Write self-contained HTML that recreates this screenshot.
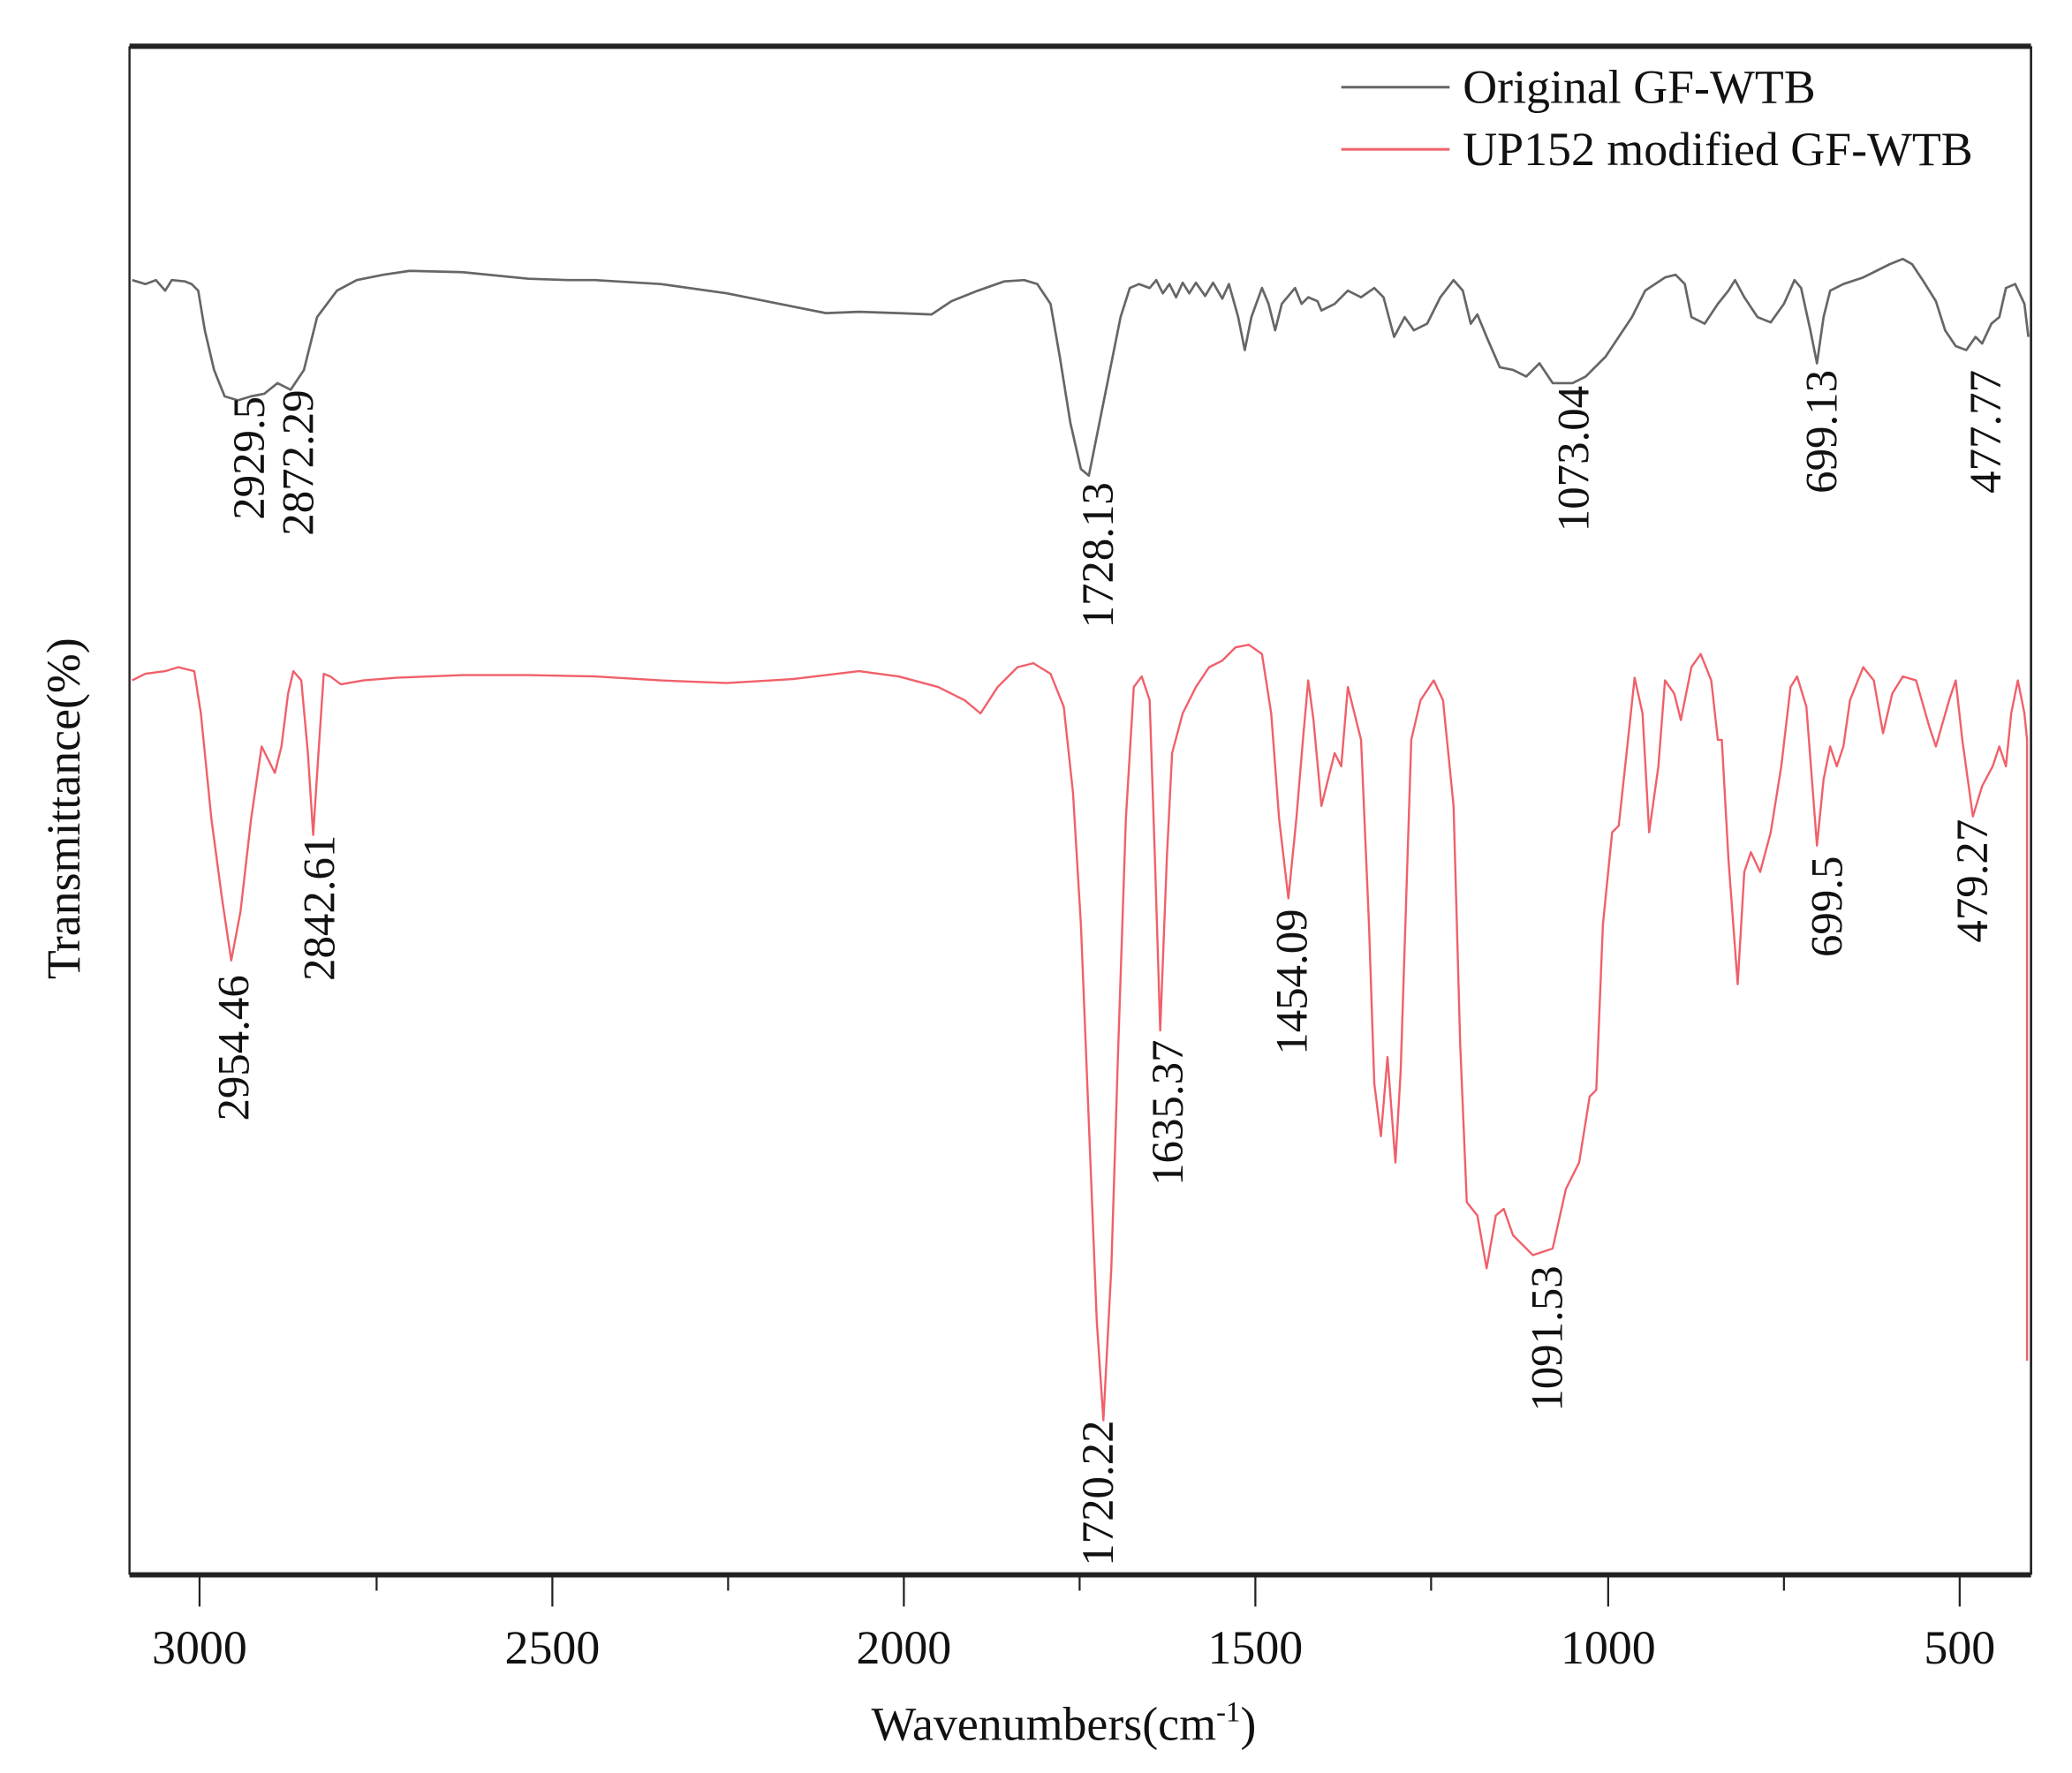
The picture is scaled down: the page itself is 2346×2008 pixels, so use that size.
<!DOCTYPE html>
<html><head><meta charset="utf-8"><style>
html,body{margin:0;padding:0;background:#fff;}
svg{display:block;}
text{font-family:"Liberation Serif",serif;fill:#111;}
</style></head><body>
<svg width="2346" height="2008" viewBox="0 0 1568 1342" preserveAspectRatio="none" xmlns="http://www.w3.org/2000/svg">
<rect x="0" y="0" width="1568" height="1342" fill="#fff"/>
<polyline fill="none" stroke="#666" stroke-width="1.8" stroke-linejoin="round" points="100,212 110,215 118,212 125,220 130,212 140,213 145,215 150,220 155,250 162,280 170,300 180,303 190,300 200,298 210,290 220,295 230,280 240,240 255,220 270,212 290,208 310,205 350,206 400,211 430,212 450,212 500,215 550,222 580,228 600,232 625,237 650,236 680,237 705,238 720,228 740,220 760,213 775,212 785,215 795,230 802,270 810,320 818,355 824,360 830,330 840,280 848,240 855,218 862,215 870,218 875,212 880,222 885,215 890,225 895,214 900,222 905,214 912,224 918,214 925,226 930,215 937,240 942,265 947,240 955,218 960,230 965,250 970,230 980,218 985,230 990,225 997,228 1000,235 1010,230 1020,220 1030,225 1040,218 1047,225 1055,255 1063,240 1070,250 1080,245 1090,225 1100,212 1107,220 1113,245 1118,238 1125,255 1135,278 1145,280 1155,285 1165,275 1175,290 1190,290 1200,285 1215,270 1225,255 1235,240 1245,220 1260,210 1268,208 1275,215 1280,240 1290,245 1300,230 1308,220 1313,212 1320,225 1330,240 1340,244 1350,230 1358,212 1363,218 1370,250 1375,275 1380,240 1385,220 1395,215 1410,210 1420,205 1430,200 1440,196 1447,200 1455,212 1465,228 1472,250 1480,262 1488,265 1495,255 1500,260 1507,245 1513,240 1518,218 1525,215 1532,230 1535,255"/>
<polyline fill="none" stroke="#f0606a" stroke-width="1.6" stroke-linejoin="round" points="100,515 110,510 125,508 135,505 147,508 152,540 160,620 168,680 175,727 182,690 190,620 198,565 203,575 208,585 213,565 218,525 222,508 228,515 233,570 237,632 241,570 245,510 250,512 258,518 275,515 300,513 350,511 400,511 450,512 500,515 550,517 600,514 650,508 680,512 710,520 730,530 742,540 755,520 770,505 782,502 795,510 805,535 812,600 818,700 824,850 830,1000 835,1075 841,960 846,800 852,620 858,520 864,512 870,530 874,650 878,780 883,650 887,570 895,540 905,520 915,505 925,500 935,490 945,488 955,495 962,540 968,620 975,680 981,620 986,560 990,515 994,545 1000,610 1005,590 1010,570 1015,580 1020,520 1025,540 1030,560 1036,700 1040,820 1045,860 1050,800 1056,880 1060,810 1068,560 1075,530 1085,515 1092,530 1100,610 1105,790 1110,910 1118,920 1125,960 1132,920 1138,915 1145,935 1160,950 1175,945 1185,900 1195,880 1203,830 1208,825 1213,700 1220,630 1225,625 1232,560 1237,513 1243,540 1248,630 1255,580 1260,515 1267,525 1272,545 1280,505 1287,495 1295,515 1300,560 1303,560 1308,650 1315,745 1320,660 1325,645 1332,660 1340,630 1348,580 1355,520 1360,512 1367,535 1375,640 1380,590 1385,565 1390,580 1395,565 1400,530 1410,505 1418,515 1425,555 1432,525 1440,512 1450,515 1460,550 1465,565 1475,530 1480,515 1485,560 1493,618 1500,595 1508,580 1513,565 1518,580 1522,540 1527,515 1532,540 1534,560 1534,1030"/>
<line x1="98" y1="35" x2="1537" y2="35" stroke="#222" stroke-width="4"/>
<line x1="98" y1="1192" x2="1537" y2="1192" stroke="#222" stroke-width="4"/>
<line x1="98" y1="35" x2="98" y2="1192" stroke="#222" stroke-width="1.6"/>
<line x1="1537" y1="35" x2="1537" y2="1192" stroke="#222" stroke-width="1.8"/>
<g stroke="#222" stroke-width="1.5">
<line x1="151" y1="1192" x2="151" y2="1216"/>
<line x1="418" y1="1192" x2="418" y2="1216"/>
<line x1="684" y1="1192" x2="684" y2="1216"/>
<line x1="950" y1="1192" x2="950" y2="1216"/>
<line x1="1217" y1="1192" x2="1217" y2="1216"/>
<line x1="1483" y1="1192" x2="1483" y2="1216"/>
<line x1="285" y1="1192" x2="285" y2="1204"/>
<line x1="551" y1="1192" x2="551" y2="1204"/>
<line x1="817" y1="1192" x2="817" y2="1204"/>
<line x1="1083" y1="1192" x2="1083" y2="1204"/>
<line x1="1350" y1="1192" x2="1350" y2="1204"/>
</g>
<g font-size="36" text-anchor="middle">
<text x="151" y="1259">3000</text>
<text x="418" y="1259">2500</text>
<text x="684" y="1259">2000</text>
<text x="950" y="1259">1500</text>
<text x="1217" y="1259">1000</text>
<text x="1483" y="1259">500</text>
</g>
<text x="805" y="1317" font-size="36" text-anchor="middle">Wavenumbers(cm<tspan font-size="22" dy="-14">-1</tspan><tspan dy="14">)</tspan></text>
<text transform="translate(60,612) rotate(-90)" font-size="36" text-anchor="middle">Transmittance(%)</text>
<line x1="1015" y1="66" x2="1097" y2="66" stroke="#666" stroke-width="2"/>
<line x1="1015" y1="113" x2="1097" y2="113" stroke="#f0606a" stroke-width="2"/>
<text x="1107" y="78" font-size="36">Original GF-WTB</text>
<text x="1107" y="125" font-size="36">UP152 modified GF-WTB</text>
<g font-size="34" text-anchor="end">
<text transform="translate(200,300) rotate(-90)">2929.5</text>
<text transform="translate(237,295) rotate(-90)">2872.29</text>
<text transform="translate(842,365) rotate(-90)">1728.13</text>
<text transform="translate(1202,292) rotate(-90)">1073.04</text>
<text transform="translate(1390,280) rotate(-90)">699.13</text>
<text transform="translate(1514,280) rotate(-90)">477.77</text>
<text transform="translate(188,738) rotate(-90)">2954.46</text>
<text transform="translate(253,632) rotate(-90)">2842.61</text>
<text transform="translate(842,1075) rotate(-90)">1720.22</text>
<text transform="translate(895,787) rotate(-90)">1635.37</text>
<text transform="translate(989,688) rotate(-90)">1454.09</text>
<text transform="translate(1182,958) rotate(-90)">1091.53</text>
<text transform="translate(1394,648) rotate(-90)">699.5</text>
<text transform="translate(1504,620) rotate(-90)">479.27</text>
</g>
</svg>
</body></html>
